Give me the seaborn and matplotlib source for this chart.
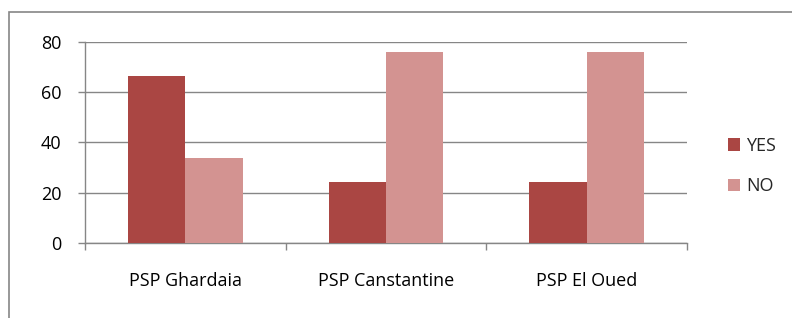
import matplotlib
matplotlib.use("Agg")
import matplotlib.pyplot as plt
import seaborn as sns
import pandas as pd
from matplotlib.patches import Rectangle

sites = ["PSP Ghardaia", "PSP Canstantine", "PSP El Oued"]
yes_values = [66.3, 24.1, 24.1]
no_values = [33.7, 75.9, 75.9]
series_names = ["YES", "NO"]
y_ticks = [0, 20, 40, 60, 80]

df = pd.DataFrame({
    "site": sites * 2,
    "answer": ["YES"] * len(sites) + ["NO"] * len(sites),
    "value": yes_values + no_values,
})

sns.set_theme(style="white")
plt.rcParams["font.family"] = ["Open Sans", "DejaVu Sans"]

W, H = 792, 318
fig = plt.figure(figsize=(W / 100, H / 100), dpi=100)
fig.patch.set_facecolor("white")
ax = fig.add_axes([85 / W, 1 - 243 / H, (687 - 85) / W, (243 - 41.7) / H])

grey = "#868686"
sns.barplot(data=df, x="site", y="value", hue="answer", hue_order=series_names,
            palette=["#AA4643", "#D39391"], saturation=1, width=0.571,
            ax=ax, legend=True, zorder=3)
for p in ax.patches:
    p.set_edgecolor("none")
    p.set_linewidth(0)

ax.set_xlim(-0.5, 2.5)
ax.set_ylim(0, 80)
ax.set_yticks(y_ticks)
ax.set_xlabel("")
ax.set_ylabel("")
ax.yaxis.grid(True, color=grey, linewidth=1, zorder=0)
ax.set_axisbelow(True)
for s in ["top", "right"]:
    ax.spines[s].set_visible(False)
for s in ["left", "bottom"]:
    ax.spines[s].set_color(grey)
    ax.spines[s].set_linewidth(1)

ax.tick_params(axis="y", which="major", direction="out", length=5, width=1,
               color=grey, labelsize=13, labelcolor="black", pad=12, left=True)
ax.tick_params(axis="x", which="major", length=0, labelsize=13,
               labelcolor="black", pad=21)
ax.set_xticks([-0.5, 0.5, 1.5, 2.5], minor=True)
ax.tick_params(axis="x", which="minor", direction="out", length=5, width=1,
               color=grey, bottom=True)

handles, labels = ax.get_legend_handles_labels()
leg = ax.legend(handles, labels, loc="center left",
                bbox_to_anchor=(712 / W, 1 - 166 / H), bbox_transform=fig.transFigure,
                frameon=False, fontsize=13, handlelength=0.67, handleheight=0.67,
                handletextpad=0.3, labelspacing=1.25)

fig.patches.append(Rectangle((9 / W, -0.1), 1.2, (1 - 12 / H) + 0.1,
                             transform=fig.transFigure, fill=False,
                             edgecolor=grey, linewidth=1.2, zorder=10))

fig.savefig("out.png", dpi=100, facecolor="white")
